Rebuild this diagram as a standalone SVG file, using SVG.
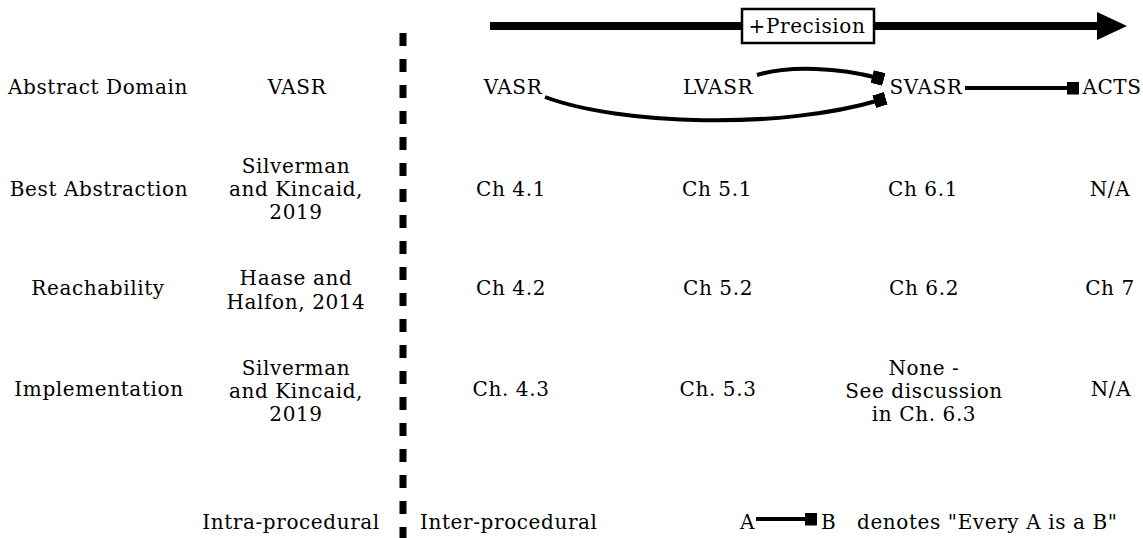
<svg xmlns="http://www.w3.org/2000/svg" width="1143" height="538" viewBox="0 0 1143 538">
  <style>
    .t { font-family: "DejaVu Serif", "Liberation Serif", serif; font-size: 20px; letter-spacing: 0.6px; fill: #000; text-anchor: middle; }
    .s { text-anchor: start; }
    .edge { fill: none; stroke: #000; stroke-width: 4; }
  </style>
  <defs>
    <marker id="sq" viewBox="0 0 12 13" refX="6" refY="6.5" markerWidth="12" markerHeight="13" markerUnits="userSpaceOnUse" orient="auto">
      <rect x="0" y="0" width="12" height="13" fill="#000"/>
    </marker>
    <marker id="tri" viewBox="0 0 30 28" refX="2" refY="14" markerWidth="30" markerHeight="28" markerUnits="userSpaceOnUse" orient="auto">
      <path d="M0,0 L30,14 L0,28 Z" fill="#000"/>
    </marker>
  </defs>

  <!-- precision axis -->
  <g id="axis">
    <line x1="490" y1="26" x2="1099" y2="26" stroke="#000" stroke-width="8" marker-end="url(#tri)"/>
    <rect x="742" y="9" width="132" height="34" fill="#fff" stroke="#000" stroke-width="2.5"/>
    <text class="t" x="807" y="33">+Precision</text>
  </g>

  <!-- separator between intra- and inter-procedural -->
  <line id="divider" x1="403" y1="33" x2="403" y2="538" stroke="#000" stroke-width="7" stroke-dasharray="13 13"/>

  <!-- row headings -->
  <g id="row-labels">
    <text class="t" x="98" y="94">Abstract Domain</text>
    <text class="t" x="99" y="196">Best Abstraction</text>
    <text class="t" x="98" y="295">Reachability</text>
    <text class="t" x="99" y="396">Implementation</text>
  </g>

  <!-- intra-procedural column -->
  <g id="intra">
    <text class="t" x="297" y="94">VASR</text>
    <text class="t" x="296" y="173">Silverman</text>
    <text class="t" x="296" y="196">and Kincaid,</text>
    <text class="t" x="296" y="219">2019</text>
    <text class="t" x="296" y="285">Haase and</text>
    <text class="t" x="296" y="309">Halfon, 2014</text>
    <text class="t" x="296" y="375">Silverman</text>
    <text class="t" x="296" y="398">and Kincaid,</text>
    <text class="t" x="296" y="421">2019</text>
    <text class="t" x="291" y="529">Intra-procedural</text>
  </g>

  <!-- abstract domains -->
  <g id="node-vasr"><text class="t" x="513" y="94">VASR</text></g>
  <g id="node-lvasr"><text class="t" x="718" y="94">LVASR</text></g>
  <g id="node-svasr"><text class="t" x="926" y="94">SVASR</text></g>
  <g id="node-acts"><text class="t" x="1112" y="94">ACTS</text></g>

  <!-- inclusion edges -->
  <g id="connectors">
    <path class="edge" d="M757,75 C790,65 840,68 878,78" marker-end="url(#sq)"/>
    <path class="edge" d="M545,97 C620,125 780,130 880,100" marker-end="url(#sq)"/>
    <line class="edge" x1="965" y1="88" x2="1073" y2="88" marker-end="url(#sq)"/>
  </g>

  <!-- chapter table -->
  <g id="cells">
    <text class="t" x="511" y="196">Ch 4.1</text>
    <text class="t" x="717" y="196">Ch 5.1</text>
    <text class="t" x="923" y="196">Ch 6.1</text>
    <text class="t" x="1110" y="196">N/A</text>
    <text class="t" x="511" y="295">Ch 4.2</text>
    <text class="t" x="718" y="295">Ch 5.2</text>
    <text class="t" x="924" y="295">Ch 6.2</text>
    <text class="t" x="1110" y="295">Ch 7</text>
    <text class="t" x="511" y="396">Ch. 4.3</text>
    <text class="t" x="718" y="396">Ch. 5.3</text>
    <text class="t" x="924" y="375">None -</text>
    <text class="t" x="924" y="398">See discussion</text>
    <text class="t" x="924" y="421">in Ch. 6.3</text>
    <text class="t" x="1111" y="396">N/A</text>
  </g>

  <!-- footer -->
  <g id="legend">
    <text class="t s" x="420" y="529">Inter-procedural</text>
    <text class="t s" x="740" y="529">A</text>
    <line class="edge" x1="756" y1="519" x2="811" y2="519" marker-end="url(#sq)"/>
    <text class="t s" x="821" y="529">B</text>
    <text class="t s" x="857" y="529">denotes "Every A is a B"</text>
  </g>
</svg>
